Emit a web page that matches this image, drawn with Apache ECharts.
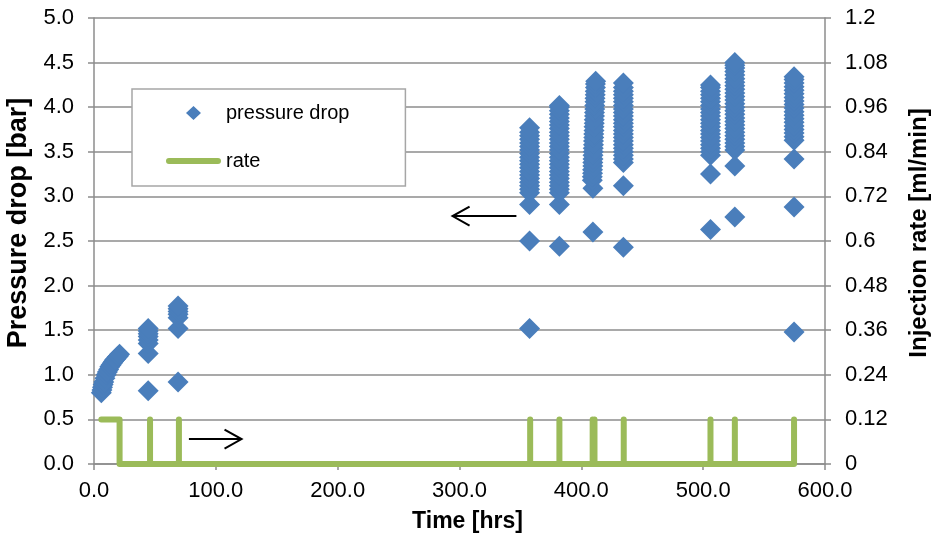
<!DOCTYPE html>
<html><head><meta charset="utf-8">
<script src="https://cdn.jsdelivr.net/npm/echarts@6/dist/echarts.min.js"></script>
<style>html,body{margin:0;padding:0;background:#fff}#chart{width:939px;height:535px}</style>
</head><body><div id="chart"></div>
<script>
// ---- data ----
const c1Time = [6, 6.5, 7, 7.5, 8, 9, 10, 11, 12, 13, 14, 15, 16, 17, 18, 19, 20, 21];
const c1Drop = [0.80, 0.83, 0.86, 0.89, 0.92, 0.96, 1.00, 1.03, 1.06, 1.09, 1.11, 1.13, 1.15, 1.17, 1.18, 1.20, 1.21, 1.23];
const c2Time = [44.5, 44.5, 44.5, 44.5, 44.5, 44.5, 44.5, 44.5];
const c2Drop = [0.82, 1.24, 1.35, 1.39, 1.43, 1.46, 1.49, 1.52];
const c3Time = [69, 69, 69, 69, 69, 69, 69];
const c3Drop = [0.92, 1.52, 1.64, 1.68, 1.71, 1.74, 1.77];
const c4Time = [357.5, 357.5, 357.5, 357.5, 357.5, 357.5, 357.5, 357.5, 357.5, 357.5, 357.5, 357.5, 357.5, 357.5, 357.5, 357.5, 357.5, 357.5, 357.5, 357.5, 357.5, 357.5];
const c4Drop = [1.52, 2.50, 2.91, 3.04, 3.08, 3.12, 3.16, 3.20, 3.24, 3.28, 3.32, 3.36, 3.40, 3.44, 3.48, 3.52, 3.56, 3.60, 3.64, 3.68, 3.72, 3.77];
const c5Time = [382, 382, 382, 382, 382, 382, 382, 382, 382, 382, 382, 382, 382, 382, 382, 382, 382, 382, 382, 382, 382, 382, 382, 382, 382, 382, 382, 382];
const c5Drop = [2.44, 2.91, 3.04, 3.08, 3.12, 3.16, 3.20, 3.24, 3.28, 3.32, 3.36, 3.40, 3.44, 3.48, 3.52, 3.56, 3.60, 3.64, 3.68, 3.72, 3.76, 3.80, 3.84, 3.88, 3.92, 3.96, 4.00, 4.02];
const c6Time = [409.5, 409.5, 409, 409, 409.2, 409.2, 409.4, 409.4, 409.6, 409.6, 409.8, 409.8, 410, 410, 410.2, 410.2, 410.4, 410.4, 410.6, 410.6, 410.8, 410.8, 411, 411, 411.2, 411.2, 411.4, 411.4, 411.6, 411.6, 411.8];
const c6Drop = [2.60, 3.09, 3.18, 3.22, 3.26, 3.30, 3.34, 3.38, 3.42, 3.46, 3.50, 3.54, 3.58, 3.62, 3.66, 3.70, 3.74, 3.78, 3.82, 3.86, 3.90, 3.94, 3.98, 4.02, 4.06, 4.10, 4.14, 4.18, 4.22, 4.26, 4.29];
const c7Time = [434.5, 434.5, 434.5, 434.5, 434.5, 434.5, 434.5, 434.5, 434.5, 434.5, 434.5, 434.5, 434.5, 434.5, 434.5, 434.5, 434.5, 434.5, 434.5, 434.5, 434.5, 434.5, 434.5, 434.5, 434.5];
const c7Drop = [2.43, 3.12, 3.38, 3.42, 3.46, 3.50, 3.54, 3.58, 3.62, 3.66, 3.70, 3.74, 3.78, 3.82, 3.86, 3.90, 3.94, 3.98, 4.02, 4.06, 4.10, 4.14, 4.18, 4.22, 4.27];
const c8Time = [506, 506, 506, 506, 506, 506, 506, 506, 506, 506, 506, 506, 506, 506, 506, 506, 506, 506, 506, 506, 506, 506, 506];
const c8Drop = [2.63, 3.25, 3.46, 3.50, 3.54, 3.58, 3.62, 3.66, 3.70, 3.74, 3.78, 3.82, 3.86, 3.90, 3.94, 3.98, 4.02, 4.06, 4.10, 4.14, 4.18, 4.22, 4.25];
const c9Time = [526, 526, 526, 526, 526, 526, 526, 526, 526, 526, 526, 526, 526, 526, 526, 526, 526, 526, 526, 526, 526, 526, 526, 526, 526, 526, 526, 526];
const c9Drop = [2.77, 3.34, 3.52, 3.56, 3.60, 3.64, 3.68, 3.72, 3.76, 3.80, 3.84, 3.88, 3.92, 3.96, 4.00, 4.04, 4.08, 4.12, 4.16, 4.20, 4.24, 4.28, 4.32, 4.36, 4.40, 4.44, 4.47, 4.50];
const c10Time = [574.6, 574.6, 574.6, 574.6, 574.6, 574.6, 574.6, 574.6, 574.6, 574.6, 574.6, 574.6, 574.6, 574.6, 574.6, 574.6, 574.6, 574.6, 574.6, 574.6, 574.6, 574.6];
const c10Drop = [1.48, 2.88, 3.42, 3.63, 3.67, 3.71, 3.75, 3.79, 3.83, 3.87, 3.91, 3.95, 3.99, 4.03, 4.07, 4.11, 4.15, 4.19, 4.23, 4.27, 4.31, 4.34];

const rateTime  = [6, 21, 21, 46, 46, 46, 69.7, 69.7, 69.7, 358, 358, 358, 382, 382, 382, 409.3, 409.3, 409.3, 410.8, 410.8, 410.8, 434.8, 434.8, 434.8, 506, 506, 506, 526, 526, 526, 574.6, 574.6];
const rateValue = [0.12, 0.12, 0, 0, 0.12, 0, 0, 0.12, 0, 0, 0.12, 0, 0, 0.12, 0, 0, 0.12, 0, 0, 0.12, 0, 0, 0.12, 0, 0, 0.12, 0, 0, 0.12, 0, 0, 0.12];

const seriesNames = ['pressure drop', 'rate'];
const xAxisTitle = 'Time [hrs]';
const leftAxisTitle = 'Pressure drop [bar]';
const rightAxisTitle = 'Injection rate [ml/min]';

// arrow annotations in data coordinates (left axis), from tail to tip
const arrowLeftTail = [346.7, 2.78], arrowLeftTip = [294.3, 2.78];
const arrowRightTail = [77.9, 0.28], arrowRightTip = [121.1, 0.28];

// ---- build ----
const clusters = [[c1Time,c1Drop],[c2Time,c2Drop],[c3Time,c3Drop],[c4Time,c4Drop],[c5Time,c5Drop],[c6Time,c6Drop],[c7Time,c7Drop],[c8Time,c8Drop],[c9Time,c9Drop],[c10Time,c10Drop]];
const pdData = [];
clusters.forEach(([t, d]) => t.forEach((v, i) => pdData.push([v, d[i]])));
const rateData = rateTime.map((t, i) => [t, rateValue[i]]);

const FONT = 'Liberation Sans, Arial, sans-serif';
const AX = '#8c8c8c';
const BLUE = '#4A7EBB', GREEN = '#9BBB59';
// legend icons: invisible corner marks fix the 55x14 box so the shapes keep their own size
const diamondIcon = 'path://M0,0 L0.01,0 M55,14 L55.01,14 M20,7 L27.5,0 L35,7 L27.5,14 Z';
const lineIcon = 'path://M0,0 L0.01,0 M55,14 L55.01,14 M3,4 L52,4 A3,3 0 0 1 52,10 L3,10 A3,3 0 0 1 3,4 Z';

const chart = echarts.init(document.getElementById('chart'), null, {renderer: 'canvas'});
chart.setOption({
  animation: false,
  backgroundColor: '#ffffff',
  textStyle: {fontFamily: FONT, color: '#000'},
  grid: {left: 94, right: 114, top: 18, bottom: 71, containLabel: false, outerBoundsMode: 'none'},
  legend: {
    data: [{name: seriesNames[0], icon: diamondIcon, itemStyle: {color: BLUE}},
           {name: seriesNames[1], icon: lineIcon, itemStyle: {color: GREEN}}],
    orient: 'vertical',
    left: 132, top: 89,
    padding: [14, 56, 15, 34],
    itemWidth: 55, itemHeight: 14, itemGap: 28,
    itemStyle: {borderWidth: 0},
    backgroundColor: '#fff',
    borderColor: '#a6a6a6', borderWidth: 1.5, borderRadius: 0,
    textStyle: {fontSize: 20, color: '#000', fontFamily: FONT}
  },
  xAxis: {
    type: 'value', min: 0, max: 600, interval: 100,
    name: xAxisTitle, nameLocation: 'middle', nameGap: 46,
    nameTextStyle: {fontSize: 23, fontWeight: 'bold', color: '#000', fontFamily: FONT, padding: [0, 0, 0, 16]},
    axisLine: {show: true, onZero: false, lineStyle: {color: AX, width: 1.5}},
    axisTick: {show: true, length: 6, lineStyle: {color: AX, width: 1.5}},
    axisLabel: {fontSize: 22, color: '#000', margin: 16, formatter: v => v.toFixed(1)},
    splitLine: {show: false}
  },
  yAxis: [{
    type: 'value', min: 0, max: 5, interval: 0.5, position: 'left',
    name: leftAxisTitle, nameLocation: 'middle', nameGap: 60, nameRotate: 90,
    nameTextStyle: {fontSize: 27, fontWeight: 'bold', color: '#000', fontFamily: FONT, padding: [0, 0, 0, 36]},
    axisLine: {show: true, lineStyle: {color: AX, width: 1.5}},
    axisTick: {show: true, length: 6, lineStyle: {color: AX, width: 1.5}},
    axisLabel: {fontSize: 22, color: '#000', margin: 20, formatter: v => v.toFixed(1)},
    splitLine: {show: true, lineStyle: {color: AX, width: 1.5}}
  }, {
    type: 'value', min: 0, max: 1.2, interval: 0.12, position: 'right',
    name: rightAxisTitle, nameLocation: 'middle', nameGap: 82, nameRotate: 90,
    nameTextStyle: {fontSize: 24, fontWeight: 'bold', color: '#000', fontFamily: FONT, padding: [0, 0, 0, 16]},
    axisLine: {show: true, lineStyle: {color: AX, width: 1.5}},
    axisTick: {show: true, length: 6, lineStyle: {color: AX, width: 1.5}},
    axisLabel: {fontSize: 22, color: '#000', margin: 20, formatter: v => String(+v.toFixed(2))},
    splitLine: {show: false}
  }],
  series: [{
    name: seriesNames[0], type: 'scatter', yAxisIndex: 0,
    symbol: 'diamond', symbolSize: 21,
    itemStyle: {color: BLUE, opacity: 1},
    data: pdData, z: 3
  }, {
    name: seriesNames[1], type: 'line', yAxisIndex: 1,
    symbol: 'none', showSymbol: false,
    lineStyle: {color: GREEN, width: 6, cap: 'round', join: 'round'},
    itemStyle: {color: GREEN},
    data: rateData, z: 2
  }]
});

function arrow(tail, tip) {
  const a = chart.convertToPixel({xAxisIndex: 0, yAxisIndex: 0}, tail);
  const b = chart.convertToPixel({xAxisIndex: 0, yAxisIndex: 0}, tip);
  const dir = b[0] > a[0] ? -1 : 1;
  const st = {stroke: '#000', lineWidth: 2, fill: null};
  return [
    {type: 'line', shape: {x1: a[0], y1: a[1], x2: b[0], y2: b[1]}, style: st, z: 10},
    {type: 'polyline', shape: {points: [[b[0] + dir * 17, b[1] - 9.5], [b[0], b[1]], [b[0] + dir * 17, b[1] + 9.5]]}, style: st, z: 10}
  ];
}
chart.setOption({graphic: [...arrow(arrowLeftTail, arrowLeftTip), ...arrow(arrowRightTail, arrowRightTip)]});
</script></body></html>
